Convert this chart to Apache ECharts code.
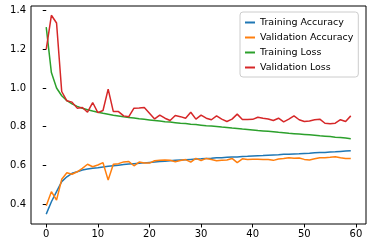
<!DOCTYPE html>
<html><head><meta charset="utf-8">
<script src="https://cdn.jsdelivr.net/npm/echarts@6/dist/echarts.min.js"></script>
<style>html,body{margin:0;padding:0;background:#fff}#c{width:372px;height:248px}</style>
</head><body><div id="c"></div>
<script>
const epochs = [0,1,2,3,4,5,6,7,8,9,10,11,12,13,14,15,16,17,18,19,20,21,22,23,24,25,26,27,28,29,30,31,32,33,34,35,36,37,38,39,40,41,42,43,44,45,46,47,48,49,50,51,52,53,54,55,56,57,58,59];
const xTicks = [0,10,20,30,40,50,60];
const yTicks = [0.4,0.6,0.8,1.0,1.2,1.4];
const seriesNames = ['Training Accuracy','Validation Accuracy','Training Loss','Validation Loss'];
const trainAcc = [0.348,0.412,0.464,0.516,0.541,0.559,0.567,0.576,0.581,0.585,0.588,0.592,0.595,0.598,0.601,0.604,0.607,0.609,0.611,0.613,0.615,0.617,0.620,0.622,0.624,0.626,0.628,0.629,0.631,0.633,0.634,0.636,0.637,0.639,0.640,0.642,0.643,0.644,0.646,0.647,0.649,0.650,0.651,0.653,0.654,0.655,0.657,0.658,0.659,0.660,0.662,0.663,0.665,0.666,0.667,0.669,0.670,0.672,0.674,0.676];
const valAcc = [0.391,0.464,0.421,0.528,0.562,0.554,0.567,0.585,0.606,0.593,0.602,0.614,0.524,0.606,0.609,0.618,0.620,0.598,0.617,0.612,0.612,0.624,0.626,0.628,0.627,0.619,0.625,0.630,0.617,0.636,0.625,0.636,0.630,0.624,0.626,0.628,0.636,0.614,0.634,0.631,0.632,0.632,0.631,0.630,0.626,0.633,0.636,0.640,0.637,0.638,0.631,0.628,0.634,0.640,0.640,0.642,0.645,0.639,0.636,0.635];
const trainLoss = [1.315,1.080,1.000,0.960,0.935,0.918,0.905,0.895,0.888,0.881,0.875,0.869,0.864,0.859,0.855,0.851,0.848,0.845,0.841,0.838,0.835,0.832,0.829,0.826,0.824,0.821,0.818,0.816,0.813,0.811,0.808,0.805,0.803,0.801,0.798,0.796,0.793,0.791,0.788,0.786,0.783,0.780,0.778,0.776,0.774,0.771,0.769,0.766,0.764,0.762,0.760,0.758,0.756,0.753,0.751,0.749,0.746,0.744,0.741,0.738];
const valLoss = [1.200,1.376,1.336,0.982,0.934,0.927,0.896,0.899,0.875,0.925,0.873,0.884,0.994,0.878,0.878,0.856,0.852,0.896,0.897,0.899,0.870,0.840,0.860,0.844,0.832,0.858,0.852,0.844,0.875,0.839,0.860,0.844,0.836,0.856,0.839,0.827,0.839,0.865,0.837,0.837,0.838,0.849,0.844,0.840,0.832,0.844,0.825,0.839,0.856,0.836,0.827,0.830,0.836,0.839,0.818,0.815,0.818,0.836,0.827,0.856];
const colors = ['#1f77b4','#ff7f0e','#2ca02c','#d62728'];
const allData = [trainAcc, valAcc, trainLoss, valLoss];

const chart = echarts.init(document.getElementById('c'), null, {renderer:'canvas'});
const font = 'DejaVu Sans';
chart.setOption({
  animation: false,
  textStyle: {fontFamily: font},
  grid: {left: 31, right: 6, top: 6, bottom: 24, show: true, borderColor: '#000', borderWidth: 1, backgroundColor: 'transparent'},
  xAxis: {
    type: 'value', min: -2.95, max: 61.95,
    axisLine: {show: false},
    splitLine: {show: false},
    axisTick: {show: true, inside: false, length: 3.5, lineStyle: {color: '#000', width: 1}, customValues: xTicks},
    axisLabel: {color: '#000', fontSize: 10, fontFamily: font, margin: 5, customValues: xTicks, formatter: v => String(v)}
  },
  yAxis: {
    type: 'value', min: 0.297, max: 1.424,
    axisLine: {show: false},
    splitLine: {show: false},
    axisTick: {show: true, inside: false, length: 3.5, lineStyle: {color: '#000', width: 1}, customValues: yTicks},
    axisLabel: {color: '#000', fontSize: 10, fontFamily: font, margin: 5, customValues: yTicks, formatter: v => v.toFixed(1)}
  },
  legend: {
    orient: 'vertical', left: 240, top: 12,
    padding: [5, 5, 4, 5],
    borderColor: '#cccccc', borderWidth: 1, borderRadius: 3, backgroundColor: '#fff',
    itemWidth: 10, itemHeight: 2, itemGap: 4,
    icon: 'rect',
    textStyle: {color: '#000', fontSize: 9.5, fontFamily: font, lineHeight: 11},
    data: seriesNames
  },
  series: seriesNames.map((n, k) => ({
    name: n, type: 'line', showSymbol: false, symbol: 'none',
    color: colors[k],
    lineStyle: {width: 1.5, color: colors[k]},
    data: epochs.map((e, i) => [e, allData[k][i]])
  }))
});
</script></body></html>
